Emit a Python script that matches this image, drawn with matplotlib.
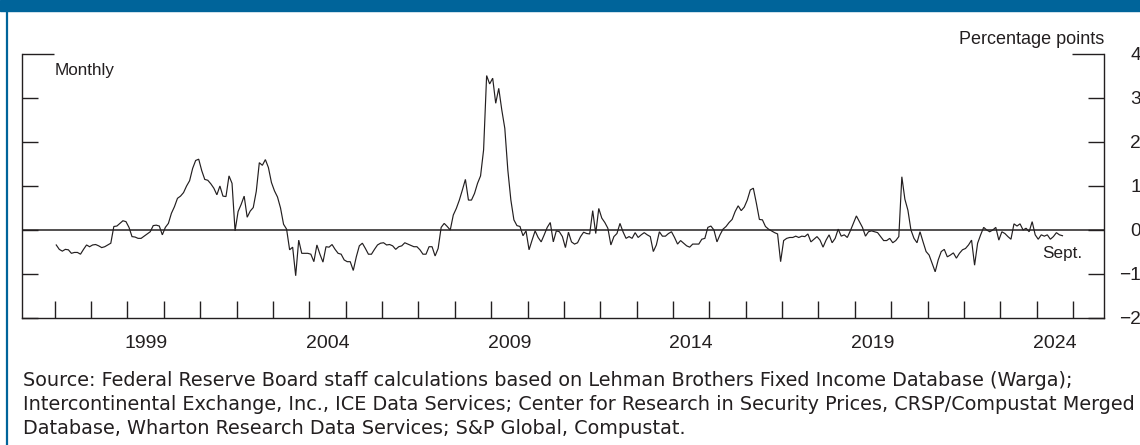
import numpy as np
import pandas as pd
import matplotlib
matplotlib.use("Agg")
import matplotlib.pyplot as plt
from matplotlib import font_manager
from matplotlib.patches import Rectangle
from matplotlib.lines import Line2D

# ---------------- data (monthly, Jan 1997 - Sept 2024) ----------------
start_month = "1997-01"
end_month = "2024-09"
v1997 = [-0.34, -0.44, -0.48, -0.44, -0.45, -0.53, -0.51, -0.51, -0.55, -0.44, -0.34, -0.38]
v1998 = [-0.34, -0.33, -0.36, -0.40, -0.38, -0.34, -0.30, 0.08, 0.09, 0.15, 0.21, 0.19]
v1999 = [0.06, -0.15, -0.16, -0.19, -0.19, -0.14, -0.09, -0.04, 0.10, 0.11, 0.09, -0.11]
v2000 = [0.06, 0.15, 0.38, 0.53, 0.72, 0.77, 0.85, 1.00, 1.12, 1.40, 1.58, 1.61]
v2001 = [1.35, 1.15, 1.13, 1.05, 0.95, 0.80, 1.00, 0.77, 0.76, 1.23, 1.06, -0.02]
v2002 = [0.42, 0.58, 0.77, 0.29, 0.43, 0.51, 0.88, 1.53, 1.47, 1.60, 1.42, 1.08]
v2003 = [0.89, 0.75, 0.50, 0.13, 0.02, -0.45, -0.39, -1.04, -0.23, -0.53, -0.53, -0.53]
v2004 = [-0.55, -0.72, -0.34, -0.55, -0.73, -0.38, -0.39, -0.33, -0.44, -0.53, -0.55, -0.68]
v2005 = [-0.72, -0.72, -0.92, -0.61, -0.36, -0.30, -0.42, -0.55, -0.55, -0.44, -0.34, -0.30]
v2006 = [-0.29, -0.34, -0.33, -0.36, -0.44, -0.38, -0.36, -0.29, -0.32, -0.35, -0.38, -0.38]
v2007 = [-0.45, -0.55, -0.55, -0.38, -0.38, -0.59, -0.42, 0.06, 0.15, 0.08, 0.00, 0.34]
v2008 = [0.49, 0.68, 0.91, 1.15, 0.68, 0.68, 0.83, 1.06, 1.23, 1.82, 3.51, 3.32]
v2009 = [3.45, 2.88, 3.22, 2.73, 2.31, 1.36, 0.68, 0.23, 0.10, 0.08, -0.13, -0.02]
v2010 = [-0.45, -0.23, -0.02, -0.17, -0.27, -0.11, 0.06, 0.17, -0.27, -0.02, -0.04, -0.15]
v2011 = [-0.40, -0.05, -0.27, -0.32, -0.29, -0.15, -0.05, -0.08, -0.09, 0.44, -0.08, 0.49]
v2012 = [0.27, 0.17, 0.04, -0.34, -0.15, -0.08, 0.15, -0.04, -0.19, -0.15, -0.19, -0.06]
v2013 = [-0.17, -0.11, -0.06, -0.11, -0.15, -0.49, -0.34, -0.04, -0.14, -0.14, -0.08, -0.04]
v2014 = [-0.17, -0.32, -0.24, -0.30, -0.36, -0.39, -0.32, -0.32, -0.32, -0.21, -0.19, 0.06]
v2015 = [0.09, 0.00, -0.27, -0.11, 0.02, 0.08, 0.17, 0.24, 0.42, 0.55, 0.44, 0.52]
v2016 = [0.68, 0.91, 0.95, 0.61, 0.24, 0.23, 0.08, 0.02, -0.02, -0.06, -0.09, -0.72]
v2017 = [-0.24, -0.19, -0.17, -0.17, -0.14, -0.17, -0.14, -0.15, -0.09, -0.27, -0.21, -0.15]
v2018 = [-0.23, -0.39, -0.23, -0.11, -0.29, -0.19, 0.02, -0.14, -0.11, -0.17, -0.02, 0.15]
v2019 = [0.32, 0.19, 0.06, -0.14, -0.04, -0.02, -0.04, -0.06, -0.15, -0.24, -0.24, -0.19]
v2020 = [-0.29, -0.24, -0.15, 1.21, 0.70, 0.45, 0.00, -0.19, -0.29, -0.04, -0.27, -0.49]
v2021 = [-0.57, -0.76, -0.95, -0.68, -0.49, -0.44, -0.61, -0.57, -0.52, -0.64, -0.53, -0.45]
v2022 = [-0.42, -0.34, -0.23, -0.80, -0.30, -0.11, 0.06, 0.00, -0.04, 0.00, 0.06, -0.23]
v2023 = [-0.04, -0.08, -0.15, -0.21, 0.14, 0.09, 0.14, 0.00, 0.04, -0.04, 0.19, -0.11]
v2024 = [-0.21, -0.11, -0.14, -0.11, -0.21, -0.15, -0.06, -0.11, -0.13]

year_labels = ["1999", "2004", "2009", "2014", "2019", "2024"]
y_ticks = [-2, -1, 0, 1, 2, 3, 4]
end_label = "Sept."
units_label = "Percentage points"
freq_label = "Monthly"
source_lines = [
    "Source: Federal Reserve Board staff calculations based on Lehman Brothers Fixed Income Database (Warga);",
    "Intercontinental Exchange, Inc., ICE Data Services; Center for Research in Security Prices, CRSP/Compustat Merged",
    "Database, Wharton Research Data Services; S&P Global, Compustat.",
]

values = np.array(v1997 + v1998 + v1999 + v2000 + v2001 + v2002 + v2003 + v2004 + v2005
                  + v2006 + v2007 + v2008 + v2009 + v2010 + v2011 + v2012 + v2013 + v2014
                  + v2015 + v2016 + v2017 + v2018 + v2019 + v2020 + v2021 + v2022 + v2023 + v2024)
months = pd.date_range(start_month, end_month, freq="MS")
x = months.year + (months.month - 0.5) / 12.0

# ---------------- fonts ----------------
avail = {f.name for f in font_manager.fontManager.ttflist}
label_font = "Liberation Sans" if "Liberation Sans" in avail else "DejaVu Sans"
source_font = "DejaVu Sans"
plt.rcParams["font.family"] = [label_font, "DejaVu Sans"]

ink = "#231f20"
blue = "#00649a"

W, H = 1140, 445
fig = plt.figure(figsize=(W / 100, H / 100), dpi=100)
fig.patch.set_facecolor("white")

# header bar and left frame line
fig.patches.append(Rectangle((0, 1 - 11 / H), 1, 11 / H, transform=fig.transFigure,
                             color=blue, zorder=0))
fig.lines.append(Line2D([6.5 / W, 6.5 / W], [0, 1 - 11 / H], transform=fig.transFigure,
                        color=blue, lw=1.6))

ax_l, ax_r, ax_t, ax_b = 22, 1104, 54, 318
ax = fig.add_axes([ax_l / W, 1 - ax_b / H, (ax_r - ax_l) / W, (ax_b - ax_t) / H])

ax.plot(x, values, color=ink, lw=0.85, solid_joinstyle="miter")
ax.axhline(0, color=ink, lw=1.1)

ax.set_ylim(-2, 4)
ax.set_xlim(1996.1, 2025.85)

for s in ["left", "right", "bottom"]:
    ax.spines[s].set_color(ink)
    ax.spines[s].set_linewidth(1.0)
ax.spines["top"].set_visible(False)

# y ticks: inward on both sides, labels on right
ax.set_yticks(y_ticks)
ax.tick_params(axis="y", which="major", direction="in", length=11.5, width=1.0, color=ink,
               left=True, right=True, labelleft=False, labelright=True,
               labelsize=13.8, labelcolor=ink, pad=26.5)
for lab in ax.get_yticklabels():
    lab.set_horizontalalignment("right")
top_tick = ax.yaxis.get_major_ticks()[-1]
top_tick.tick1line.set_markersize(23)
top_tick.tick2line.set_markersize(23)

# x ticks: year boundaries (inward), labels at mid-year
years = np.arange(1997, 2026)
ax.set_xticks(years)
ax.tick_params(axis="x", which="major", direction="in", length=12.2, width=1.0, color=ink,
               labelbottom=False)
ax.set_xticks([int(y) + 0.5 for y in year_labels], minor=True)
ax.set_xticklabels(year_labels, minor=True)
ax.tick_params(axis="x", which="minor", length=0, pad=12, labelsize=14, labelcolor=ink)

# annotations
ax.text(0.0305, 0.939, freq_label, transform=ax.transAxes, fontsize=12.3, color=ink,
        ha="left", va="center")
fig.text(ax_r / W, 1 - 40 / H, units_label, fontsize=13, color=ink, ha="right", va="center")
ax.annotate(end_label, xy=(x[-1], values[-1]), xytext=(14.4, -12.5),
            textcoords="offset points", ha="right", va="center", fontsize=12.3, color=ink)

# source note: fit lines to the reference widths
renderer = fig.canvas.get_renderer()
src_texts = []
for i, line in enumerate(source_lines):
    t = fig.text(23 / W, 1 - (381 + 24 * i) / H, line, fontsize=13, color=ink,
                 ha="left", va="center", family=[source_font])
    src_texts.append(t)
w1 = src_texts[0].get_window_extent(renderer).width
w2 = src_texts[1].get_window_extent(renderer).width
size = min(13 * 1069.0 / w1, 13 * 1108.0 / w2)
for t in src_texts:
    t.set_fontsize(size)

fig.savefig("out.png", dpi=100, facecolor="white")
